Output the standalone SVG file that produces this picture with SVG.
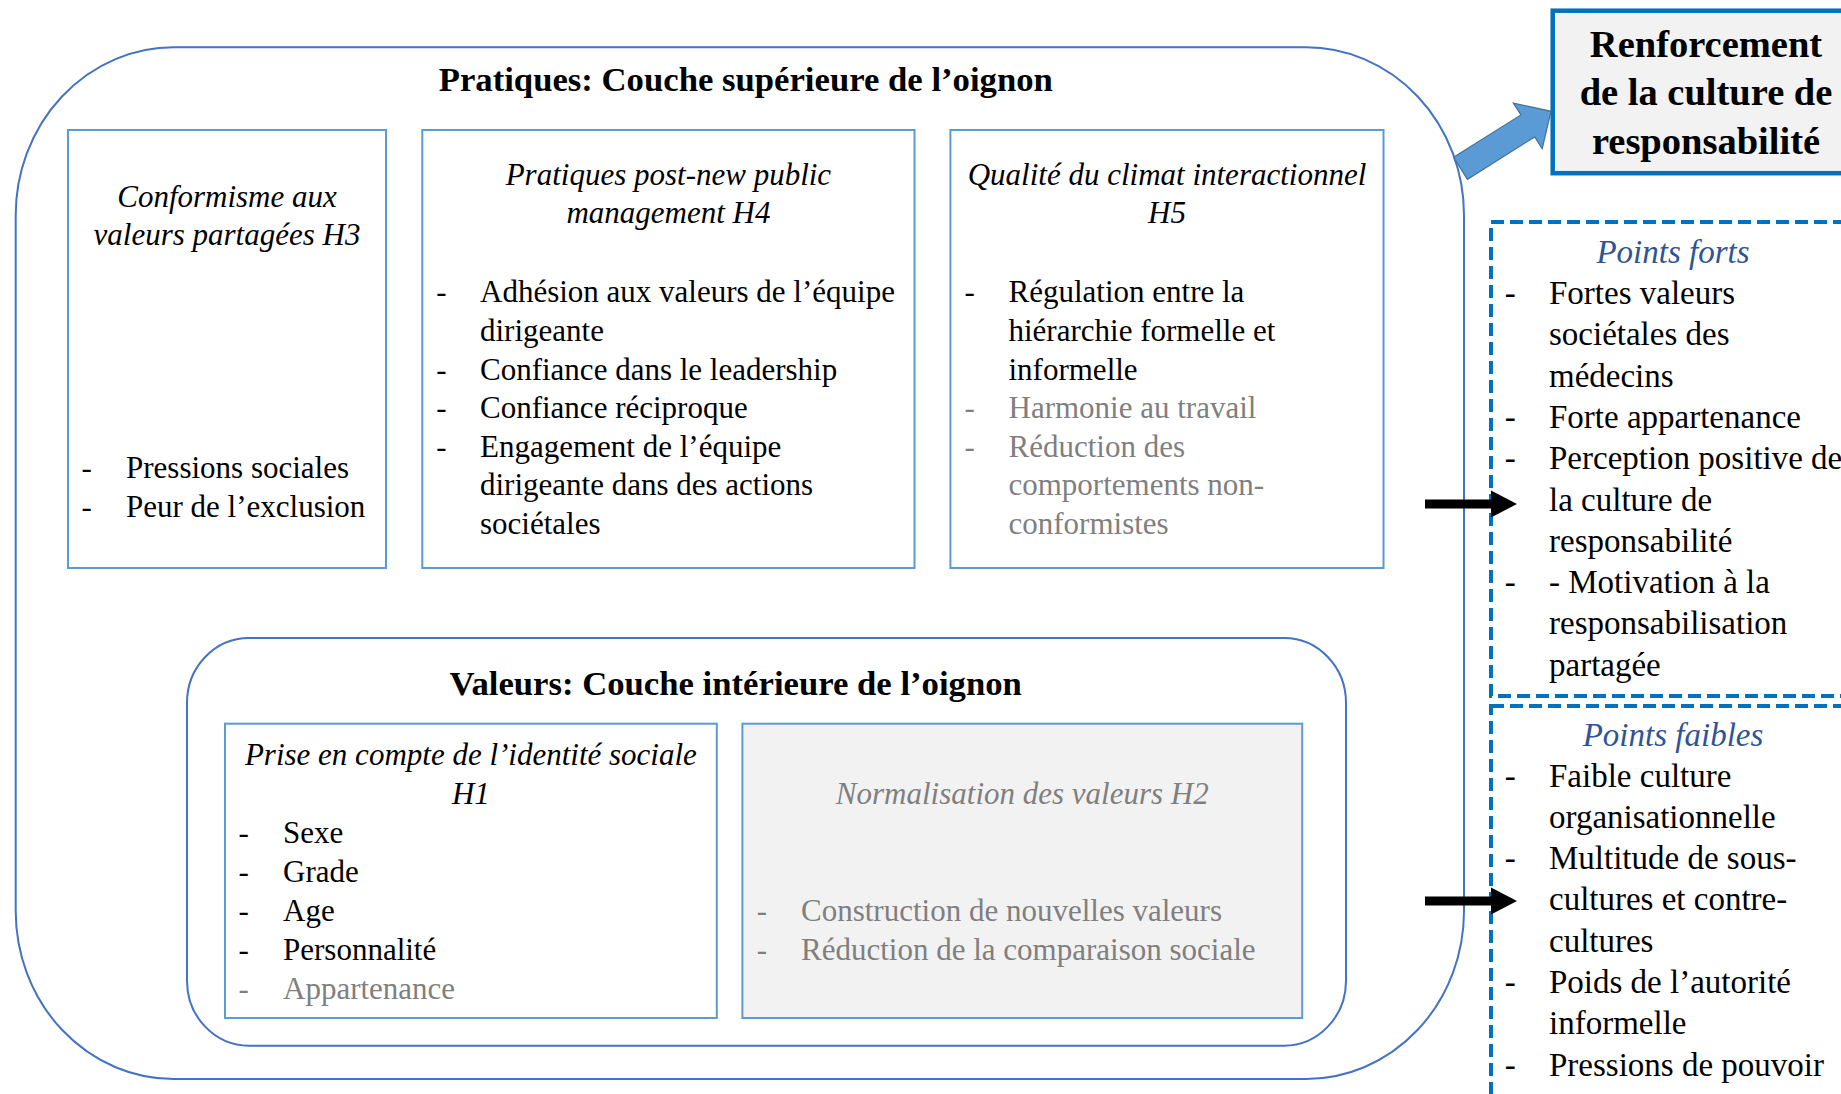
<svg xmlns="http://www.w3.org/2000/svg" width="1841" height="1094" viewBox="0 0 1841 1094">
<style>
text{font-family:"Liberation Serif","Times New Roman",serif;font-size:31px;fill:#000}
.i{font-style:italic}
.g{fill:#7f7f7f}
.m{text-anchor:middle}
.h{font-weight:bold;font-size:34.7px}
.r{font-size:33px}
.pt{font-style:italic;fill:#2f5496;text-anchor:middle;font-size:33px}
.rf{font-weight:bold;font-size:38.5px;text-anchor:middle}
.layer{fill:#fff;stroke:#4472c4;stroke-width:2}
.box{fill:#fff;stroke:#5b9bd5;stroke-width:2}
.dash{fill:none;stroke:#0070c0;stroke-width:4;stroke-dasharray:13 6}
</style>
<rect width="1841" height="1094" fill="#fff"/>

<g id="pratiques-layer">
<rect class="layer" x="15.7" y="47.3" width="1448.3" height="1031.7" rx="158" ry="168"/>
<text class="h m" x="745.8" y="91">Pratiques: Couche supérieure de l’oignon</text>
</g>

<g id="h3">
<rect class="box" x="68" y="130" width="318" height="438"/>
<text class="i m" x="227" y="206.7">Conformisme aux</text>
<text class="i m" x="227" y="245">valeurs partagées H3</text>
<text x="81.5" y="477.6">-</text><text x="126" y="477.6">Pressions sociales</text>
<text x="81.5" y="516.7">-</text><text x="126" y="516.7">Peur de l’exclusion</text>
</g>

<g id="h4">
<rect class="box" x="422.3" y="130" width="492.2" height="438"/>
<text class="i m" x="668.4" y="185">Pratiques post-new public</text>
<text class="i m" x="668.4" y="223">management H4</text>
<text x="436.3" y="302.3">-</text><text x="480" y="302.3">Adhésion aux valeurs de l’équipe</text>
<text x="480" y="340.9">dirigeante</text>
<text x="436.3" y="379.5">-</text><text x="480" y="379.5">Confiance dans le leadership</text>
<text x="436.3" y="418.1">-</text><text x="480" y="418.1">Confiance réciproque</text>
<text x="436.3" y="456.7">-</text><text x="480" y="456.7">Engagement de l’équipe</text>
<text x="480" y="495.3">dirigeante dans des actions</text>
<text x="480" y="533.9">sociétales</text>
</g>

<g id="h5">
<rect class="box" x="950.4" y="130" width="433.1" height="438"/>
<text class="i m" x="1167" y="185">Qualité du climat interactionnel</text>
<text class="i m" x="1167" y="223">H5</text>
<text x="964.5" y="302.3">-</text><text x="1008.5" y="302.3">Régulation entre la</text>
<text x="1008.5" y="340.9">hiérarchie formelle et</text>
<text x="1008.5" y="379.5">informelle</text>
<text class="g" x="964.5" y="418.1">-</text><text class="g" x="1008.5" y="418.1">Harmonie au travail</text>
<text class="g" x="964.5" y="456.7">-</text><text class="g" x="1008.5" y="456.7">Réduction des</text>
<text class="g" x="1008.5" y="495.3">comportements non-</text>
<text class="g" x="1008.5" y="533.9">conformistes</text>
</g>

<g id="valeurs-layer">
<rect class="layer" x="187" y="638" width="1159" height="407.7" rx="62" ry="65"/>
<text class="h m" x="735.7" y="695">Valeurs: Couche intérieure de l’oignon</text>
</g>

<g id="h1">
<rect class="box" x="225" y="723.7" width="491.8" height="294.3"/>
<text class="i m" x="470.9" y="765">Prise en compte de l’identité sociale</text>
<text class="i m" x="470.9" y="804">H1</text>
<text x="238.6" y="843">-</text><text x="283" y="843">Sexe</text>
<text x="238.6" y="882">-</text><text x="283" y="882">Grade</text>
<text x="238.6" y="921">-</text><text x="283" y="921">Age</text>
<text x="238.6" y="960">-</text><text x="283" y="960">Personnalité</text>
<text class="g" x="238.6" y="999">-</text><text class="g" x="283" y="999">Appartenance</text>
</g>

<g id="h2">
<rect class="box" x="742.4" y="723.7" width="559.8" height="294.3" style="fill:#f2f2f2"/>
<text class="i m g" x="1022.3" y="804">Normalisation des valeurs H2</text>
<text class="g" x="756.8" y="921">-</text><text class="g" x="801" y="921">Construction de nouvelles valeurs</text>
<text class="g" x="756.8" y="960">-</text><text class="g" x="801" y="960">Réduction de la comparaison sociale</text>
</g>

<g id="renforcement">
<rect x="1552.7" y="10.7" width="310" height="162.5" fill="#f2f2f2" stroke="#0070c0" stroke-width="4.5"/>
<text class="rf" x="1706" y="57">Renforcement</text>
<text class="rf" x="1706" y="105">de la culture de</text>
<text class="rf" x="1706" y="153.5">responsabilité</text>
</g>

<g id="points-forts">
<rect class="dash" x="1491" y="222" width="400" height="474"/>
<text class="pt" x="1673" y="262.5">Points forts</text>
<text class="r" x="1504.7" y="304">-</text><text class="r" x="1549" y="304">Fortes valeurs</text>
<text class="r" x="1549" y="345.3">sociétales des</text>
<text class="r" x="1549" y="386.6">médecins</text>
<text class="r" x="1504.7" y="427.9">-</text><text class="r" x="1549" y="427.9">Forte appartenance</text>
<text class="r" x="1504.7" y="469.2">-</text><text class="r" x="1549" y="469.2">Perception positive de</text>
<text class="r" x="1549" y="510.5">la culture de</text>
<text class="r" x="1549" y="551.8">responsabilité</text>
<text class="r" x="1504.7" y="593.1">-</text><text class="r" x="1549" y="593.1">- Motivation à la</text>
<text class="r" x="1549" y="634.4">responsabilisation</text>
<text class="r" x="1549" y="675.7">partagée</text>
</g>

<g id="points-faibles">
<rect class="dash" x="1491" y="706" width="400" height="450"/>
<text class="pt" x="1673" y="745.5">Points faibles</text>
<text class="r" x="1504.7" y="786.5">-</text><text class="r" x="1549" y="786.5">Faible culture</text>
<text class="r" x="1549" y="827.8">organisationnelle</text>
<text class="r" x="1504.7" y="869.1">-</text><text class="r" x="1549" y="869.1">Multitude de sous-</text>
<text class="r" x="1549" y="910.4">cultures et contre-</text>
<text class="r" x="1549" y="951.7">cultures</text>
<text class="r" x="1504.7" y="993">-</text><text class="r" x="1549" y="993">Poids de l’autorité</text>
<text class="r" x="1549" y="1034.3">informelle</text>
<text class="r" x="1504.7" y="1075.6">-</text><text class="r" x="1549" y="1075.6">Pressions de pouvoir</text>
</g>

<g id="connectors">
<polygon points="1453.6,157.3 1520.9,114.9 1513.4,103.1 1551,111.3 1542.2,148.7 1534.7,136.9 1467.4,179.3" fill="#5b9bd5" stroke="#41719c" stroke-width="1.2"/>
<line x1="1425" y1="504" x2="1492" y2="504" stroke="#000" stroke-width="9"/>
<polygon points="1491,490.5 1517,504 1491,517.5" fill="#000"/>
<line x1="1425" y1="901" x2="1492" y2="901" stroke="#000" stroke-width="9"/>
<polygon points="1491,887.5 1517,901 1491,914.5" fill="#000"/>
</g>
</svg>
